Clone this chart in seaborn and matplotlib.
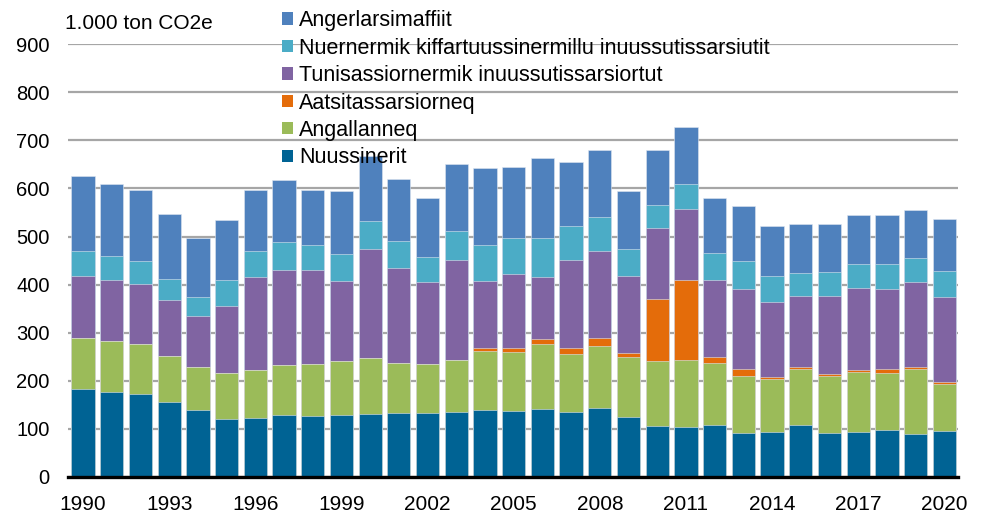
import numpy as np
import pandas as pd
import matplotlib
matplotlib.use("Agg")
import matplotlib.pyplot as plt
from matplotlib.patches import Patch
import seaborn as sns

years = list(range(1990, 2021))

# Emissions by source, 1.000 ton CO2e (bottom to top of each stack)
nuussinerit = [182, 177, 173, 156, 140, 121, 122, 128, 127, 128, 132, 133, 133, 135, 139, 138,
               142, 135, 143, 125, 106, 104, 109, 92, 94, 108, 91, 94, 97, 90, 96]
angallanneq = [106, 106, 103, 96, 88, 96, 100, 105, 108, 114, 115, 105, 101, 109, 123, 121,
               134, 120, 129, 125, 136, 140, 129, 117, 110, 116, 119, 125, 120, 134, 98]
aatsitassarsiorneq = [0, 0, 0, 0, 0, 0, 0, 0, 0, 0, 0, 0, 0, 0, 7, 10,
                      10, 14, 16, 8, 129, 165, 12, 16, 4, 5, 4, 3, 7, 4, 4]
tunisassiornermik = [131, 127, 125, 117, 107, 138, 193, 198, 196, 166, 228, 197, 172, 208, 139, 154,
                     129, 183, 181, 159, 146, 149, 160, 165, 156, 147, 162, 170, 166, 177, 177]
nuernermik = [51, 50, 48, 42, 40, 54, 55, 57, 51, 56, 58, 55, 52, 59, 74, 74,
              82, 70, 71, 57, 48, 51, 56, 59, 55, 48, 50, 50, 52, 51, 53]
angerlarsimaffiit = [155, 150, 148, 136, 121, 126, 127, 130, 115, 131, 134, 129, 122, 140, 160, 148,
                     167, 133, 139, 120, 115, 118, 114, 114, 103, 102, 100, 102, 102, 100, 109]

series_names = [
    "Nuussinerit",
    "Angallanneq",
    "Aatsitassarsiorneq",
    "Tunisassiornermik inuussutissarsiortut",
    "Nuernermik kiffartuussinermillu inuussutissarsiutit",
    "Angerlarsimaffiit",
]
series_values = [nuussinerit, angallanneq, aatsitassarsiorneq,
                 tunisassiornermik, nuernermik, angerlarsimaffiit]
series_colors = ["#006394", "#9BBB59", "#E46C0A", "#8064A2", "#4BACC6", "#4F81BD"]

y_ticks = [0, 100, 200, 300, 400, 500, 600, 700, 800, 900]
x_tick_years = [1990, 1993, 1996, 1999, 2002, 2005, 2008, 2011, 2014, 2017, 2020]
unit_label = "1.000 ton CO2e"

df = pd.DataFrame({"year": years})
for name, vals in zip(series_names, series_values):
    df[name] = vals
cum = df[series_names].cumsum(axis=1)

sns.set_theme(style="white")
plt.rcParams["font.family"] = ["Liberation Sans", "DejaVu Sans"]
plt.rcParams["text.color"] = "black"
plt.rcParams["legend.labelcolor"] = "black"

fig = plt.figure(figsize=(9.83, 5.14), dpi=100)
ax = fig.add_axes([0.069, 0.072, 0.906, 0.842])

# Stacked bars: draw cumulative totals from the top layer down
for name, color in reversed(list(zip(series_names, series_colors))):
    sns.barplot(x=df["year"].astype(str), y=cum[name], color=color, width=0.81,
                saturation=1, edgecolor="#dfe6f0", linewidth=0.4, ax=ax, zorder=2)

ax.set_xlim(-0.53, 30.49)
ax.set_ylim(0, 900)
ax.set_yticks(y_ticks)
ax.set_yticklabels([str(v) for v in y_ticks], fontsize=14.5)
pos = [years.index(y) for y in x_tick_years]
ax.set_xticks(pos)
ax.set_xticklabels([str(y) for y in x_tick_years], fontsize=15)
ax.tick_params(axis="y", length=0, pad=13, colors="black")
ax.tick_params(axis="x", length=0, pad=13, colors="black")
ax.set_xlabel("")
ax.set_ylabel("")

ax.yaxis.grid(True, color="#a6a6a6", linewidth=1.6, zorder=0)
ax.set_axisbelow(True)
for s in ["top", "right", "left"]:
    ax.spines[s].set_visible(False)
ax.spines["bottom"].set_color("black")
ax.spines["bottom"].set_linewidth(2.4)
ax.spines["bottom"].set_zorder(5)

fig.text(0.066, 0.955, unit_label, fontsize=15, ha="left", va="center", color="black")

handles = [Patch(facecolor=c, edgecolor="none", label=n)
           for n, c in reversed(list(zip(series_names, series_colors)))]
leg = fig.legend(handles=handles, loc="upper left", bbox_to_anchor=(0.278, 0.997),
                 frameon=False, fontsize=15.5, handlelength=0.5, handleheight=0.5,
                 handletextpad=0.3, labelspacing=0.30, borderaxespad=0, labelcolor="black")
leg.set_zorder(10)

fig.savefig("out.png", dpi=100)
